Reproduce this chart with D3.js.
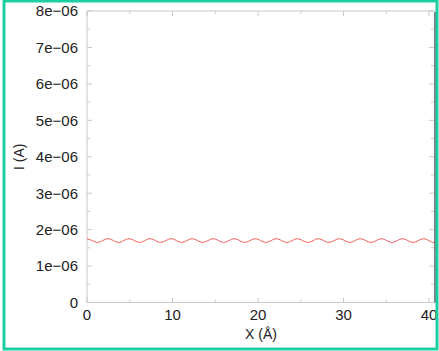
<!DOCTYPE html>
<html>
<head>
<meta charset="utf-8">
<script src="https://cdnjs.cloudflare.com/ajax/libs/d3/7.8.5/d3.min.js"></script>
<style>
  html, body { margin: 0; padding: 0; background: #fff; }
  svg { display: block; }
</style>
</head>
<body>
<div id="chart"></div>
<script>
// current along X (crest, mid, trough, mid, ...)
var xVals = [0, 0.615, 1.23, 1.845, 2.46, 3.075, 3.69, 4.305, 4.92, 5.535, 6.15, 6.765,
  7.38, 7.995, 8.61, 9.225, 9.84, 10.455, 11.07, 11.685, 12.30, 12.915, 13.53, 14.145,
  14.76, 15.375, 15.99, 16.605, 17.22, 17.835, 18.45, 19.065, 19.68, 20.295, 20.91, 21.525,
  22.14, 22.755, 23.37, 23.985, 24.60, 25.215, 25.83, 26.445, 27.06, 27.675, 28.29, 28.905,
  29.52, 30.135, 30.75, 31.365, 31.98, 32.595, 33.21, 33.825, 34.44, 35.055, 35.67, 36.285,
  36.90, 37.515, 38.13, 38.745, 39.36, 39.975, 40.59, 41.205, 41.82];
var iVals = [1.75e-6, 1.70e-6, 1.65e-6, 1.70e-6, 1.75e-6, 1.70e-6, 1.65e-6, 1.70e-6,
  1.75e-6, 1.70e-6, 1.65e-6, 1.70e-6, 1.75e-6, 1.70e-6, 1.65e-6, 1.70e-6,
  1.75e-6, 1.70e-6, 1.65e-6, 1.70e-6, 1.75e-6, 1.70e-6, 1.65e-6, 1.70e-6,
  1.75e-6, 1.70e-6, 1.65e-6, 1.70e-6, 1.75e-6, 1.70e-6, 1.65e-6, 1.70e-6,
  1.75e-6, 1.70e-6, 1.65e-6, 1.70e-6, 1.75e-6, 1.70e-6, 1.65e-6, 1.70e-6,
  1.75e-6, 1.70e-6, 1.65e-6, 1.70e-6, 1.75e-6, 1.70e-6, 1.65e-6, 1.70e-6,
  1.75e-6, 1.70e-6, 1.65e-6, 1.70e-6, 1.75e-6, 1.70e-6, 1.65e-6, 1.70e-6,
  1.75e-6, 1.70e-6, 1.65e-6, 1.70e-6, 1.75e-6, 1.70e-6, 1.65e-6, 1.70e-6,
  1.75e-6, 1.70e-6, 1.65e-6, 1.70e-6, 1.75e-6];
var xTicks = [0, 10, 20, 30, 40];
var yTicks = [0, 1e-6, 2e-6, 3e-6, 4e-6, 5e-6, 6e-6, 7e-6, 8e-6];
var yTickLabels = ['0', '1e\u221206', '2e\u221206', '3e\u221206', '4e\u221206',
  '5e\u221206', '6e\u221206', '7e\u221206', '8e\u221206'];

var width = 439, height = 351;
var mLeft = 87, mRight = 435, mTop = 11, mBottom = 302.5;

var svg = d3.select('#chart').append('svg')
  .attr('width', width)
  .attr('height', height)
  .attr('font-family', 'Liberation Sans, Arial, sans-serif');

var x = d3.scaleLinear().domain([0, 40.7]).range([mLeft, mRight]);
var y = d3.scaleLinear().domain([0, 8e-6]).range([mBottom, mTop]);

var axisColor = '#c8c8c8';
var textColor = '#222';

// frame lines
svg.append('line').attr('x1', mLeft).attr('x2', mRight).attr('y1', mTop).attr('y2', mTop)
  .attr('stroke', axisColor);
svg.append('line').attr('x1', mLeft).attr('x2', mRight).attr('y1', mBottom).attr('y2', mBottom)
  .attr('stroke', axisColor);
svg.append('line').attr('x1', mLeft).attr('x2', mLeft).attr('y1', mTop).attr('y2', mBottom)
  .attr('stroke', axisColor);

// ticks (inward, mirrored)
var xMinor = d3.range(5, 41, 10);
var yMinor = d3.range(0.5e-6, 8e-6, 1e-6);
var tickG = svg.append('g').attr('stroke', axisColor);
xTicks.concat(xMinor).forEach(function(t, i) {
  var len = i < xTicks.length ? 5 : 3;
  tickG.append('line').attr('x1', x(t)).attr('x2', x(t)).attr('y1', mBottom).attr('y2', mBottom - len);
  tickG.append('line').attr('x1', x(t)).attr('x2', x(t)).attr('y1', mTop).attr('y2', mTop + len);
});
yTicks.concat(yMinor).forEach(function(t, i) {
  var len = i < yTicks.length ? 5 : 3;
  tickG.append('line').attr('x1', mLeft).attr('x2', mLeft + len).attr('y1', y(t)).attr('y2', y(t));
  tickG.append('line').attr('x1', mRight - 1).attr('x2', mRight - 1 - len).attr('y1', y(t)).attr('y2', y(t));
});

// tick labels
svg.append('g').selectAll('text').data(xTicks).enter().append('text')
  .attr('x', function(d) { return x(d); })
  .attr('y', 320)
  .attr('text-anchor', 'middle')
  .attr('font-size', 15)
  .attr('fill', textColor)
  .text(function(d) { return d; });

svg.append('g').selectAll('text').data(yTicks).enter().append('text')
  .attr('x', 78)
  .attr('y', function(d) { return y(d); })
  .attr('dy', '0.36em')
  .attr('text-anchor', 'end')
  .attr('font-size', 15)
  .attr('fill', textColor)
  .text(function(d, i) { return yTickLabels[i]; });

// axis titles
svg.append('text')
  .attr('x', 261).attr('y', 339)
  .attr('text-anchor', 'middle')
  .attr('font-size', 14)
  .attr('fill', textColor)
  .text('X (\u00c5)');

svg.append('text')
  .attr('transform', 'translate(24,' + (mTop + mBottom) / 2 + ') rotate(-90)')
  .attr('text-anchor', 'middle')
  .attr('font-size', 14)
  .attr('fill', textColor)
  .text('I (A)');

// data line
svg.append('clipPath').attr('id', 'plot-clip')
  .append('rect').attr('x', mLeft).attr('y', mTop).attr('width', mRight - mLeft).attr('height', mBottom - mTop);

var line = d3.line()
  .x(function(d, i) { return x(xVals[i]); })
  .y(function(d) { return y(d); })
  .curve(d3.curveNatural);

svg.append('path')
  .datum(iVals)
  .attr('clip-path', 'url(#plot-clip)')
  .attr('fill', 'none')
  .attr('stroke', '#f25a55')
  .attr('stroke-width', 1)
  .attr('d', line);

// dark right edge
svg.append('line').attr('x1', mRight).attr('x2', mRight).attr('y1', mTop + 1).attr('y2', mBottom)
  .attr('stroke', '#555').attr('stroke-width', 1.5);

// outer teal border
svg.append('rect')
  .attr('x', 4).attr('y', 1)
  .attr('width', 433).attr('height', 348)
  .attr('fill', 'none')
  .attr('stroke', '#1ccfa3')
  .attr('stroke-width', 3);
</script>
</body>
</html>
